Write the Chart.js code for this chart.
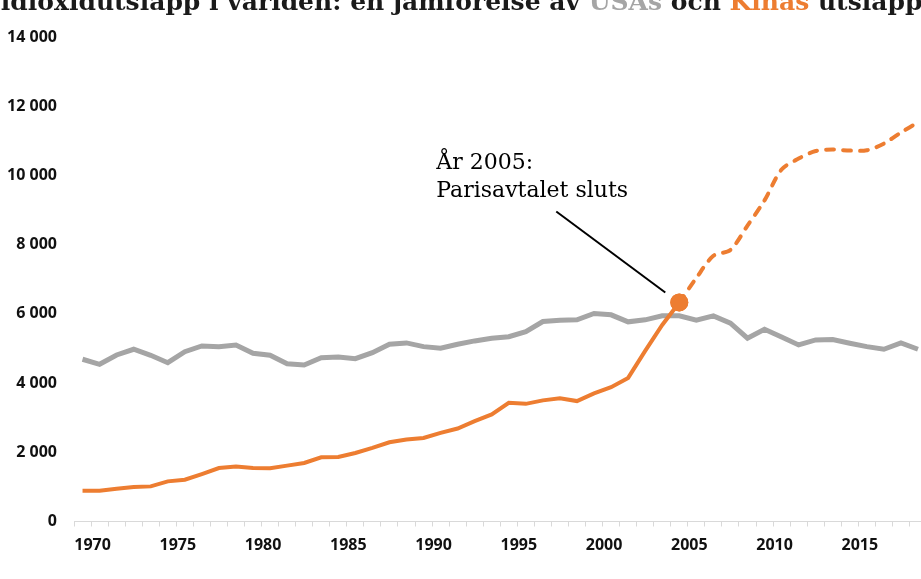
<!DOCTYPE html>
<html>
<head>
<meta charset="utf-8">
<script src="https://cdn.jsdelivr.net/npm/chart.js@4.4.1/dist/chart.umd.min.js"></script>
<style>
  html, body { margin: 0; padding: 0; background: #fff; }
  #wrap { position: relative; width: 921px; height: 579px; overflow: hidden; background: #fff; }
  #title { position: absolute; left: -37px; top: -11px; white-space: nowrap; line-height: 25px;
           font-family: "DejaVu Serif", serif; font-weight: bold; font-size: 25px; color: #1a1a1a; }
  #title .usa { color: #A5A5A5; }
  #title .kina { color: #ED7D31; }
  canvas { position: absolute; left: 0; top: 0; }
</style>
</head>
<body>
<div id="wrap">
  <canvas id="c" width="940" height="579" style="width:940px;height:579px"></canvas>
  <div id="title">Koldioxidutsläpp i världen: en jämförelse av <span class="usa">USAs</span> och <span class="kina">Kinas</span> utsläpp</div>
</div>
<script>
const years = [1970,1971,1972,1973,1974,1975,1976,1977,1978,1979,
               1980,1981,1982,1983,1984,1985,1986,1987,1988,1989,
               1990,1991,1992,1993,1994,1995,1996,1997,1998,1999,
               2000,2001,2002,2003,2004,2005,2006,2007,2008,2009,
               2010,2011,2012,2013,2014,2015,2016,2017,2018,2019];
const labeledYears = [1970,1975,1980,1985,1990,1995,2000,2005,2010,2015];
const yTicks = [0,2000,4000,6000,8000,10000,12000,14000];

// USA, 1970–2019
const usa = [4688,4543,4812,4977,4803,4589,4908,5073,5053,5102,
             4861,4803,4560,4522,4734,4754,4705,4879,5122,5160,
             5053,5006,5122,5218,5296,5340,5488,5778,5818,5827,
             6010,5972,5769,5827,5943,5943,5818,5943,5731,5296,
             5557,5334,5102,5247,5256,5151,5053,4977,5160,4977];
// Kina, 1970–2005 (heldragen)
const chinaHist = [890,890,948,994,1015,1160,1209,1371,1545,1586,
                   1545,1536,1615,1690,1855,1864,1980,2125,2290,2368,
                   2415,2560,2687,2899,3093,3430,3400,3500,3560,3480,
                   3700,3880,4150,4930,5680,6330];
// Kina, 2005–2019 (streckad)
const chinaProj = [6330,7036,7677,7848,8550,9280,10170,10486,10706,10747,
                   10718,10726,10920,11240,11530];

const markYear = 2005;
const markIdx = years.indexOf(markYear);

const histData = years.map((y, i) => i < chinaHist.length ? chinaHist[i] : null);
const projStart = years.length - chinaProj.length;
const projData = years.map((y, i) => i >= projStart ? chinaProj[i - projStart] : null);

const ORANGE = '#ED7D31';
const GRAY = '#A5A5A5';

const annotation = {
  id: 'annotation',
  afterDatasetsDraw(chart) {
    const meta = chart.getDatasetMeta(0);
    const pt = meta.data[markIdx];
    if (!pt) return;
    const px = pt.x, py = pt.y;
    const ctx = chart.ctx;
    ctx.save();
    ctx.strokeStyle = '#000';
    ctx.lineWidth = 2;
    ctx.beginPath();
    ctx.moveTo(px - 123, py - 91);
    ctx.lineTo(px - 14, py - 10);
    ctx.stroke();
    ctx.fillStyle = ORANGE;
    ctx.beginPath();
    ctx.arc(px, py, 9, 0, Math.PI * 2);
    ctx.fill();
    ctx.fillStyle = '#000';
    ctx.font = '22px "DejaVu Serif", serif';
    ctx.textAlign = 'left';
    ctx.textBaseline = 'alphabetic';
    ctx.fillText('År 2005:', px - 243, py - 133);
    ctx.fillText('Parisavtalet sluts', px - 243, py - 105);
    ctx.restore();
  }
};

new Chart(document.getElementById('c'), {
  type: 'line',
  data: {
    labels: years.map(String),
    datasets: [
      {
        label: 'Kina',
        data: histData,
        borderColor: ORANGE,
        backgroundColor: ORANGE,
        borderWidth: 4,
        tension: 0,
        pointRadius: (c) => c.dataIndex === markIdx ? 9 : 0,
        pointHoverRadius: 0,
        pointBorderWidth: 0,
        spanGaps: false
      },
      {
        label: 'Kina (prognos)',
        data: projData,
        borderColor: ORANGE,
        borderWidth: 4,
        borderDash: [8, 9],
        borderCapStyle: 'round',
        tension: 0.3,
        pointRadius: 0,
        spanGaps: false
      },
      {
        label: 'USA',
        data: usa,
        borderColor: GRAY,
        borderWidth: 5,
        tension: 0,
        pointRadius: 0
      }
    ]
  },
  options: {
    responsive: false,
    animation: false,
    devicePixelRatio: 1,
    layout: { padding: { left: 0, right: 13.5, top: 37, bottom: 0 } },
    plugins: { legend: { display: false }, tooltip: { enabled: false }, title: { display: false } },
    scales: {
      x: {
        type: 'category',
        offset: true,
        grid: { offset: true, drawOnChartArea: false, drawTicks: true, tickLength: 5, color: '#D9D9D9', lineWidth: 1 },
        border: { display: true, color: '#D9D9D9', width: 1 },
        ticks: {
          autoSkip: false,
          maxRotation: 0,
          minRotation: 0,
          padding: 9,
          labelOffset: 10,
          color: '#111',
          font: { family: '"Open Sans", sans-serif', weight: 'bold', size: 16 },
          callback: function (val, idx) {
            const y = years[idx];
            return labeledYears.includes(y) ? String(y) : '';
          }
        },
        afterFit: (s) => { s.height = 57.5; }
      },
      y: {
        min: 0,
        max: 14000,
        afterBuildTicks: (s) => { s.ticks = yTicks.map(v => ({ value: v })); },
        grid: { display: false, drawTicks: false },
        border: { display: false },
        ticks: {
          padding: 17,
          color: '#111',
          font: { family: '"Open Sans", sans-serif', weight: 'bold', size: 16 },
          callback: (v) => v === 0 ? '0' : String(v).replace(/\B(?=(\d{3})+(?!\d))/g, ' ')
        },
        afterFit: (s) => { s.width = 74; }
      }
    }
  },
  plugins: [annotation]
});
</script>
</body>
</html>
